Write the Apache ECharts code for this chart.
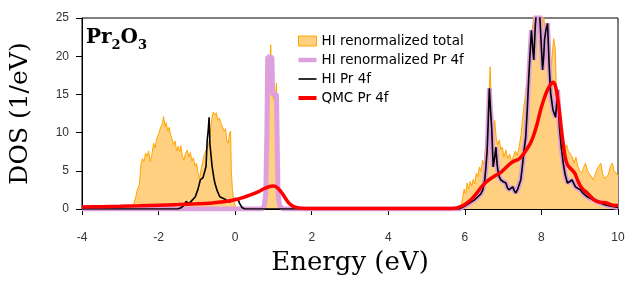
<!DOCTYPE html>
<html>
<head>
<meta charset="utf-8">
<script src="https://cdn.jsdelivr.net/npm/echarts@6/dist/echarts.min.js"></script>
<style>html,body{margin:0;padding:0;background:#fff}#c{width:643px;height:281px}</style>
</head>
<body>
<div id="c"></div>
<script>
// ---------- data ----------
const xTicks = [-4, -2, 0, 2, 4, 6, 8, 10];
const yTicks = [0, 5, 10, 15, 20, 25];
const seriesNames = ['HI renormalized total', 'HI renormalized Pr 4f', 'HI Pr 4f', 'QMC Pr 4f'];

// HI renormalized total
const totalE = [-4,-2.72,-2.66,-2.6,-2.55,-2.5,-2.46,-2.42,-2.38,-2.34,-2.3,-2.26,-2.22,-2.18,-2.13,-2.09,-2.05,-2.0,-1.95,-1.9,-1.87,-1.83,-1.8,-1.76,-1.72,-1.69,-1.65,-1.61,-1.57,-1.53,-1.49,-1.45,-1.42,-1.38,-1.34,-1.3,-1.25,-1.21,-1.17,-1.13,-1.09,-1.05,-1.01,-0.97,-0.93,-0.89,-0.85,-0.81,-0.77,-0.73,-0.69,-0.65,-0.61,-0.57,-0.53,-0.49,-0.45,-0.41,-0.37,-0.33,-0.29,-0.25,-0.22,-0.18,-0.15,-0.12,-0.1,-0.07,-0.03,0.02,0.1,
  0.72,0.78,0.82,0.86,0.9,0.93,0.95,0.98,1.02,1.05,1.08,1.1,1.13,1.17,1.22,1.3,
  5.85,5.9,5.94,5.98,6.02,6.06,6.1,6.14,6.18,6.22,6.26,6.3,6.34,6.38,6.42,6.46,6.5,6.54,6.58,6.62,6.66,6.7,6.74,6.78,6.82,6.86,6.9,6.94,6.98,7.02,7.07,7.12,7.17,7.22,7.27,7.32,7.37,7.42,7.47,7.52,7.57,7.62,7.67,7.72,7.77,7.82,7.97,8.01,8.05,8.1,8.14,8.18,8.22,8.27,8.32,8.36,8.4,8.44,8.48,8.53,8.57,8.62,8.66,8.7,8.75,8.8,8.85,8.9,8.95,9.0,9.05,9.1,9.15,9.2,9.25,9.3,9.35,9.4,9.45,9.5,9.55,9.6,9.65,9.7,9.75,9.8,9.85,9.9,9.95,10];
const totalDOS = [0,0,0.4,1.5,2.6,3.2,5.8,6.6,6.2,7.3,6.9,7.6,6.2,7.0,8.6,8.0,9.2,9.8,10.6,11.2,12.1,10.8,11.3,10.2,10.7,9.8,9.2,8.4,8.9,7.6,8.2,7.5,8.3,7.0,6.4,7.2,7.7,6.8,7.4,6.3,6.7,5.6,6.0,4.8,3.9,5.2,6.1,7.0,7.6,8.0,8.6,9.8,11.8,12.7,12.3,12.6,11.6,11.9,11.2,10.8,10.2,10.5,9.0,8.6,9.8,10.2,5.0,2.4,0.9,0.2,0,
  0,0.5,4,12,18,21.5,17.5,15,14.2,14.6,16.5,10,3,0.8,0.1,0,
  0,0.4,1.4,2.6,2.0,3.4,2.6,3.6,3.0,3.9,3.3,4.7,4.2,5.5,4.9,6.4,5.8,8.0,9.5,13,18.6,12.5,9.8,11.6,9.2,8.4,9.0,7.8,8.1,6.8,7.7,6.6,7.2,6.2,6.9,7.6,7.0,8.2,9.8,12.5,14.5,16.8,19,22,24,26,26,21,26,26,20,18.5,17.5,19.5,22.3,21,14,11.6,10.2,9.0,8.6,8.1,8.4,7.6,7.8,6.9,6.0,6.8,5.6,5.0,4.7,5.4,6.0,5.1,4.6,4.3,3.8,4.4,5.2,5.6,6.0,4.6,4.0,3.8,4.5,5.6,6.0,5.0,4.7,4.4];

// HI Pr 4f (black)
const hiE = [-4,-1.5,-1.4,-1.33,-1.28,-1.22,-1.15,-1.04,-0.97,-0.91,-0.84,-0.79,-0.76,-0.73,-0.7,-0.68,-0.66,-0.63,-0.6,-0.56,-0.53,-0.47,-0.4,-0.32,-0.24,-0.14,-0.06,0.02,0.08,0.12,0.18,0.25,
  5.85,5.9,6.0,6.1,6.16,6.25,6.34,6.42,6.47,6.52,6.55,6.58,6.6,6.64,6.67,6.7,6.74,6.78,6.81,6.84,6.86,6.9,6.94,7.0,7.07,7.11,7.15,7.2,7.25,7.29,7.33,7.38,7.42,7.46,7.5,7.55,7.59,7.63,7.67,7.71,7.74,7.78,7.8,7.84,7.87,7.95,7.99,8.03,8.06,8.08,8.12,8.16,8.2,8.24,8.3,8.37,8.4,8.42,8.45,8.47,8.52,8.57,8.62,8.68,8.74,8.8,8.85,8.89,8.95,9.02,9.1,9.2,9.35,9.53,9.7,9.9,10];
const hiDOS = [0,0,0.2,0.5,1.0,0.7,1.0,1.6,2.6,3.8,4.1,5.0,5.6,9.0,10.5,12.0,8.6,7.0,5.5,4.2,3.4,2.4,1.6,1.4,1.2,0.9,1.2,1.4,1.2,0.7,0.2,0,
  0,0.2,0.4,0.7,0.9,1.2,1.6,2.0,2.5,3.8,5.5,7.5,10,15.8,13,10.7,5.5,6.8,8.1,6,5.1,4.2,3.8,3.6,3.4,2.8,2.5,2.7,2.9,2.4,2.1,2.6,3.2,3.8,5.5,7.8,9.4,13,17.3,21,23.4,20.5,19.5,24,26,26,22,18.2,20,22.1,23.5,24.3,19,15.2,13,12,14,15.6,13,10.7,8,6,4.5,3.4,3.6,3.8,3.3,2.9,2.7,2.5,2.0,1.6,1.2,0.8,0.5,0.3,0.2];

// HI renormalized Pr 4f (plum): 1 eV peak, and the HI Pr 4f shape above 6 eV
const renormPeakE = [-4,0.7,0.76,0.8,0.83,0.85,0.96,0.98,1.08,1.1,1.12,1.16,1.25];
const renormPeakDOS = [0,0,0.4,2,10,19.9,19.9,15,15,8,2,0.4,0];

// QMC Pr 4f (red)
const qmcE = [-4,-3.5,-3,-2.5,-2,-1.5,-1,-0.6,-0.3,0,0.2,0.4,0.6,0.75,0.88,1.0,1.1,1.2,1.3,1.4,1.5,1.62,1.8,2.5,5.5,5.75,5.85,6.0,6.16,6.3,6.42,6.55,6.68,6.8,6.94,7.07,7.2,7.3,7.4,7.5,7.6,7.7,7.78,7.88,7.98,8.08,8.16,8.24,8.3,8.36,8.42,8.47,8.52,8.57,8.62,8.68,8.76,8.82,8.88,8.95,9.02,9.1,9.2,9.35,9.45,9.53,9.62,9.7,9.8,9.87,9.95,10];
const qmcDOS = [0.25,0.3,0.35,0.42,0.5,0.58,0.68,0.8,0.95,1.2,1.5,1.85,2.25,2.65,2.92,3.0,2.8,2.25,1.5,0.8,0.4,0.18,0.08,0.05,0.05,0.1,0.25,0.6,1.2,2.0,2.8,3.5,4.0,4.4,4.8,5.4,6.0,6.3,6.5,7.0,7.7,8.5,9.4,11,13,14.6,15.6,16.3,16.6,16.2,14.7,12.8,10.5,8.5,6.8,5.8,5.3,5.0,4.6,3.7,3.0,2.5,2.1,1.3,1.0,0.9,0.85,0.8,0.6,0.5,0.45,0.45];

// ---------- build ----------
const zip = (xs, ys) => xs.map((x, i) => [x, ys[i]]);
const hiRightStart = hiE.indexOf(5.85);
const renormE = renormPeakE.concat(hiE.slice(hiRightStart));
const renormDOS = renormPeakDOS.concat(hiDOS.slice(hiRightStart));

const chart = echarts.init(document.getElementById('c'), null, {renderer: 'canvas'});
const tickFont = {fontFamily: 'Liberation Sans', fontSize: 12, color: '#333'};
chart.setOption({
  animation: false,
  backgroundColor: '#fff',
  grid: {left: 78, right: 25, top: 18, bottom: 72, show: true, borderColor: '#000', borderWidth: 1, backgroundColor: 'transparent'},
  title: {
    text: '{a|Pr}{s|2}{a|O}{s|3}',
    left: 81, top: 19,
    textStyle: {rich: {
      a: {fontFamily: 'DejaVu Serif', fontWeight: 'bold', fontSize: 20, color: '#000', verticalAlign: 'bottom', lineHeight: 24},
      s: {fontFamily: 'DejaVu Serif', fontWeight: 'bold', fontSize: 13, color: '#000', verticalAlign: 'bottom', lineHeight: 16, padding: [0, 0, -4, 0]}
    }}
  },
  legend: {
    orient: 'vertical', left: 293, top: 29, itemWidth: 18, itemHeight: 10, itemGap: 5,
    textStyle: {fontFamily: 'DejaVu Sans', fontSize: 13.5, color: '#000'},
    data: [
      {name: seriesNames[0], icon: 'rect', itemStyle: {color: '#FFD080', borderColor: '#FFA500', borderWidth: 1}},
      {name: seriesNames[1], icon: 'path://M0,0H20V5H0Z', itemStyle: {color: '#DDA0DD', borderWidth: 0}},
      {name: seriesNames[2], icon: 'path://M0,0H20V1.8H0Z', itemStyle: {color: '#000', borderWidth: 0}},
      {name: seriesNames[3], icon: 'path://M0,0H20V4.5H0Z', itemStyle: {color: '#FF0000', borderWidth: 0}}
    ]
  },
  xAxis: {
    type: 'value', min: xTicks[0], max: xTicks[xTicks.length - 1], interval: 2,
    name: 'Energy (eV)', nameLocation: 'middle', nameGap: 41,
    nameTextStyle: {fontFamily: 'DejaVu Serif', fontSize: 26, color: '#000'},
    axisLine: {onZero: false, lineStyle: {color: '#000', width: 1}},
    axisTick: {show: true, length: 6, lineStyle: {color: '#000'}},
    axisLabel: Object.assign({margin: 23}, tickFont),
    splitLine: {show: false}
  },
  yAxis: {
    type: 'value', min: yTicks[0], max: yTicks[yTicks.length - 1], interval: 5,
    name: 'DOS (1/eV)', nameLocation: 'middle', nameGap: 49, nameRotate: 90,
    nameTextStyle: {fontFamily: 'DejaVu Serif', fontSize: 25, color: '#000'},
    axisLine: {show: true, onZero: false, lineStyle: {color: '#000', width: 1}},
    axisTick: {show: true, length: 6, lineStyle: {color: '#000'}},
    axisLabel: Object.assign({margin: 13}, tickFont),
    splitLine: {show: false}
  },
  series: [
    {name: seriesNames[0], type: 'line', data: zip(totalE, totalDOS), symbol: 'none', clip: true,
      lineStyle: {color: '#FFA500', width: 1}, itemStyle: {color: '#FFA500'},
      areaStyle: {color: '#FFD080', opacity: 1}, z: 1},
    {name: seriesNames[1], type: 'line', data: zip(renormE, renormDOS), symbol: 'none', clip: true,
      lineStyle: {color: '#DDA0DD', width: 5}, itemStyle: {color: '#DDA0DD'}, z: 2},
    {name: seriesNames[2], type: 'line', data: zip(hiE, hiDOS), symbol: 'none', clip: true,
      lineStyle: {color: '#000', width: 1.6}, itemStyle: {color: '#000'}, z: 3},
    {name: seriesNames[3], type: 'line', data: zip(qmcE, qmcDOS), symbol: 'none', clip: true, smooth: 0.3,
      lineStyle: {color: '#FF0000', width: 3.5}, itemStyle: {color: '#FF0000'}, z: 4}
  ]
});
</script>
</body>
</html>
